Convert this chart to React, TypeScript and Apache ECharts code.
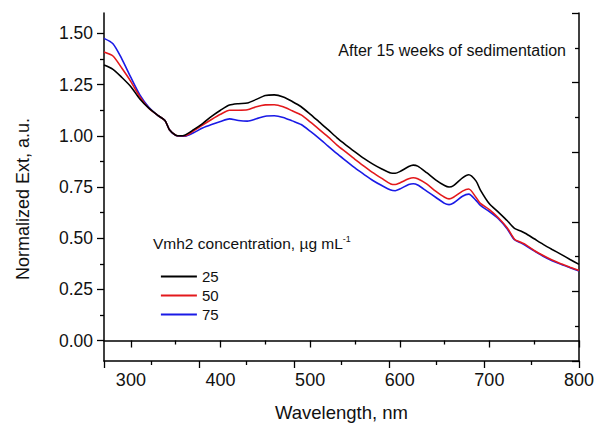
import React, { useEffect, useRef } from "react";
import * as echarts from "echarts";

const wavelengths = [270, 280, 290, 300, 310, 320, 330, 338, 343, 350, 355, 360, 370, 380, 390, 400, 410, 420, 430, 440, 450, 460, 470, 480, 490, 500, 510, 520, 530, 540, 550, 560, 570, 580, 590, 595, 600, 610, 615, 620, 630, 640, 650, 655, 660, 670, 677, 685, 690, 700, 710, 720, 728, 735, 740, 750, 760, 770, 780, 790, 800];

const ext25 = [1.346, 1.325, 1.285, 1.24, 1.18, 1.135, 1.1, 1.075, 1.03, 1.003, 1.0, 1.003, 1.03, 1.06, 1.095, 1.125, 1.15, 1.157, 1.16, 1.178, 1.197, 1.2, 1.19, 1.168, 1.142, 1.106, 1.068, 1.03, 0.99, 0.955, 0.922, 0.89, 0.862, 0.838, 0.818, 0.817, 0.825, 0.85, 0.857, 0.852, 0.82, 0.785, 0.757, 0.75, 0.757, 0.795, 0.81, 0.78, 0.735, 0.668, 0.627, 0.585, 0.548, 0.535, 0.524, 0.497, 0.47, 0.445, 0.421, 0.396, 0.372];

const ext50 = [1.41, 1.39, 1.33, 1.265, 1.19, 1.135, 1.1, 1.075, 1.03, 1.003, 1.0, 1.0, 1.025, 1.053, 1.08, 1.105, 1.125, 1.125, 1.127, 1.142, 1.151, 1.152, 1.142, 1.122, 1.102, 1.068, 1.032, 0.995, 0.955, 0.92, 0.885, 0.852, 0.82, 0.792, 0.765, 0.762, 0.77, 0.79, 0.795, 0.79, 0.765, 0.73, 0.7, 0.692, 0.7, 0.73, 0.74, 0.7, 0.67, 0.64, 0.6, 0.55, 0.495, 0.48, 0.47, 0.44, 0.415, 0.393, 0.375, 0.358, 0.342];

const ext75 = [1.476, 1.45, 1.375, 1.285, 1.2, 1.14, 1.1, 1.075, 1.03, 1.002, 0.998, 0.998, 1.015, 1.038, 1.055, 1.07, 1.083, 1.075, 1.072, 1.083, 1.096, 1.098, 1.09, 1.073, 1.055, 1.023, 0.988, 0.95, 0.913, 0.878, 0.843, 0.812, 0.782, 0.757, 0.735, 0.732, 0.74, 0.762, 0.766, 0.76, 0.73, 0.7, 0.67, 0.664, 0.672, 0.705, 0.715, 0.685, 0.66, 0.63, 0.595, 0.545, 0.492, 0.477, 0.465, 0.438, 0.412, 0.39, 0.372, 0.356, 0.34];

const seriesNames = ["25", "50", "75"];
const seriesColors = ["#000000", "#e3191c", "#1a1ae6"];
const xMajorTicks = [300, 400, 500, 600, 700, 800];
const xMinorTicks = [350, 450, 550, 650, 750];
const yMajorTicks = [0, 0.25, 0.5, 0.75, 1.0, 1.25, 1.5];
const yMinorTicks = [0.125, 0.375, 0.625, 0.875, 1.125, 1.375];

const FONT = "Liberation Sans";

export default function App() {
  const ref = useRef<HTMLDivElement>(null);
  useEffect(() => {
    if (!ref.current) return;
    const chart = echarts.init(ref.current, null, { renderer: "svg" });
    const allSeries = [ext25, ext50, ext75];
    const grid = { left: 104, top: 13, width: 475, height: 350 };
    const axLine = { show: true, lineStyle: { color: "#000", width: 1.5 } };
    chart.setOption({
      animation: false,
      backgroundColor: "#fff",
      grid,
      xAxis: [
        {
          type: "value",
          min: 270,
          max: 800,
          position: "bottom",
          axisLine: axLine,
          axisTick: { show: true, customValues: xMajorTicks, length: 7, lineStyle: { color: "#000", width: 1.3 } },
          axisLabel: { customValues: xMajorTicks, margin: 10, fontSize: 18, fontFamily: FONT, color: "#111" },
          splitLine: { show: false },
          name: "Wavelength, nm",
          nameLocation: "middle",
          nameGap: 42,
          nameTextStyle: { fontSize: 18.5, fontFamily: FONT, color: "#111" },
        },
        {
          type: "value",
          min: 270,
          max: 800,
          position: "bottom",
          axisLine: { show: false },
          axisTick: { show: true, customValues: xMinorTicks, length: 4, lineStyle: { color: "#000", width: 1.3 } },
          axisLabel: { show: false },
          splitLine: { show: false },
        },
        {
          type: "value",
          min: 0,
          max: 5,
          interval: 1,
          position: "top",
          axisLine: axLine,
          axisTick: { show: true, inside: true, length: 7, lineStyle: { color: "#000", width: 1.3 } },
          minorTick: { show: true, splitNumber: 2, length: 4, lineStyle: { color: "#000", width: 1.3 } },
          axisLabel: { show: false },
          splitLine: { show: false },
        },
      ],
      yAxis: [
        {
          type: "value",
          min: -0.1,
          max: 1.6,
          position: "left",
          axisLine: axLine,
          axisTick: { show: true, customValues: yMajorTicks, length: 7, lineStyle: { color: "#000", width: 1.3 } },
          axisLabel: {
            customValues: yMajorTicks,
            margin: 11,
            fontSize: 17.5,
            fontFamily: FONT,
            color: "#111",
            formatter: (v: number) => v.toFixed(2),
          },
          splitLine: { show: false },
        },
        {
          type: "value",
          min: -0.1,
          max: 1.6,
          position: "left",
          axisLine: { show: false },
          axisTick: { show: true, customValues: yMinorTicks, length: 4, lineStyle: { color: "#000", width: 1.3 } },
          axisLabel: { show: false },
          splitLine: { show: false },
        },
        {
          type: "value",
          min: 0,
          max: 5,
          interval: 1,
          position: "right",
          axisLine: axLine,
          axisTick: { show: true, inside: true, length: 7, lineStyle: { color: "#000", width: 1.3 } },
          minorTick: { show: true, splitNumber: 2, length: 4, lineStyle: { color: "#000", width: 1.3 } },
          axisLabel: { show: false },
          splitLine: { show: false },
        },
      ],
      legend: {
        show: true,
        orient: "vertical",
        left: 155,
        top: 264,
        itemWidth: 36,
        itemHeight: 14,
        itemGap: 4,
        data: seriesNames,
        itemStyle: { opacity: 0 },
        lineStyle: { width: 1.8 },
        textStyle: { fontSize: 15, fontFamily: FONT, color: "#111" },
      },
      graphic: [
        {
          type: "text",
          x: 23,
          y: 199,
          rotation: Math.PI / 2,
          style: {
            text: "Normalized Ext, a.u.",
            fontSize: 18,
            fontFamily: FONT,
            fill: "#111",
            align: "center",
            verticalAlign: "middle",
          },
        },
        {
          type: "text",
          x: 566,
          y: 50,
          style: {
            text: "After 15 weeks of sedimentation",
            fontSize: 16,
            fontFamily: FONT,
            fill: "#111",
            align: "right",
            verticalAlign: "middle",
          },
        },
        {
          type: "text",
          x: 153,
          y: 243,
          style: {
            text: "{a|Vmh2 concentration, µg mL}{s|-1}",
            fontFamily: FONT,
            fill: "#111",
            align: "left",
            verticalAlign: "middle",
            rich: {
              a: { fontSize: 15.5, fontFamily: FONT, fill: "#111", lineHeight: 17 },
              s: { fontSize: 9, fontFamily: FONT, fill: "#111", verticalAlign: "top", lineHeight: 10 },
            },
          },
        },
      ],
      series: allSeries.map((vals, i) => ({
        name: seriesNames[i],
        type: "line",
        xAxisIndex: 0,
        yAxisIndex: 0,
        symbol: "none",
        smooth: 0.25,
        lineStyle: { color: seriesColors[i], width: 1.6 },
        itemStyle: { color: seriesColors[i] },
        data: wavelengths.map((w, j) => [w, vals[j]]),
        z: 3 - i,
      })),
    });
    return () => chart.dispose();
  }, []);
  return (
    <div
      ref={ref}
      style={{ position: "fixed", left: 0, top: 0, width: 598, height: 427, background: "#fff" }}
    />
  );
}
